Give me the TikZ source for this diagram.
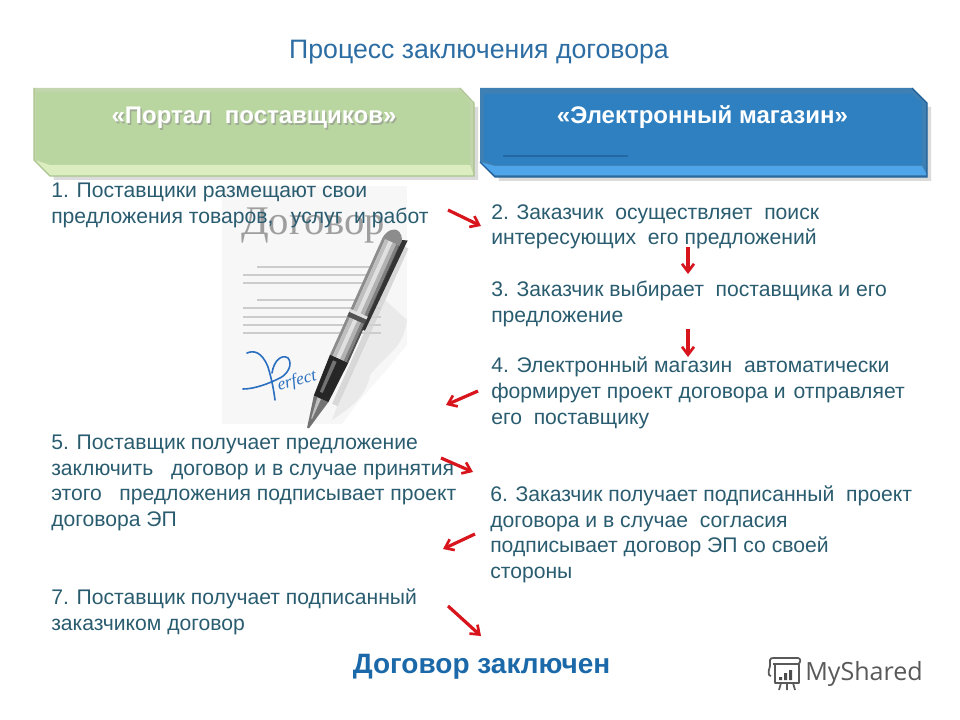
\documentclass[tikz,border=0pt]{standalone}
\usepackage{fontspec}
\setmainfont{Liberation Sans}
\newfontfamily\serifdoc{Liberation Serif}
\newfontfamily\logofont{Open Sans}
\usetikzlibrary{arrows.meta,shapes.geometric}
\definecolor{bodytxt}{HTML}{2A5C70}
\definecolor{titletxt}{HTML}{2C6DA4}
\definecolor{donetxt}{HTML}{1B69A9}
\definecolor{greenface}{HTML}{BAD6A0}
\definecolor{greenlight}{HTML}{DCEDC0}
\definecolor{greenside}{HTML}{A9C48D}
\definecolor{greentop}{HTML}{C3D5AC}
\definecolor{blueface}{HTML}{2F80C0}
\definecolor{bluelight}{HTML}{4FA5EA}
\definecolor{blueside}{HTML}{1F5E96}
\definecolor{bluetop}{HTML}{3F80B4}
\definecolor{arrowred}{HTML}{D8141C}
\definecolor{sigblue}{HTML}{2A6FC0}
\tikzset{
  x=0.75pt,y=-0.75pt,
  bodytext/.style={anchor=north west,inner sep=0pt,align=left,text=bodytxt,
    font=\fontsize{15.85}{19.3}\selectfont},
  headtext/.style={inner sep=0pt,font=\fontsize{18}{21}\selectfont\bfseries,text=white},
  headshadow/.style={inner sep=0pt,font=\fontsize{18}{21}\selectfont\bfseries,text=black!45,opacity=.55},
  redarrow/.style={draw=arrowred,line width=2.4pt,-{Straight Barb[length=6pt,width=9pt,line width=2pt]}},
}
\begin{document}
\begin{tikzpicture}
\useasboundingbox (0,0) rectangle (960,720);
\fill[white] (0,0) rectangle (960,720);
% ---- title
\node[inner sep=0pt,text=titletxt,font=\fontsize{20}{24}\selectfont] (title) at (479,52) {Процесс заключения договора};
% ---- green banner
\fill[black!40,opacity=.35] (38,92)--(478,107)--(478,180)--(54,180)--cycle;
\fill[greentop] (34,88)--(460,88)--(474,103)--(474,176)--(50,176)--(34,160)--cycle;
\fill[greenface] (36,92)--(462,92)--(470,103)--(470,165)--(50,165)--(36,159)--cycle;
\fill[greenlight] (34,160)--(50,165)--(470,165)--(474,176)--(50,176)--cycle;
\draw[greenside,line width=.8pt] (460,88)--(474,103)--(474,176)--(50,176)--(34,160)--(34,88);
\node[headshadow] at (255.5,119.5) {«Портал\ \ поставщиков»};
\node[headtext] (portal) at (254,117.5) {«Портал\ \ поставщиков»};
% ---- blue banner
\fill[black!40,opacity=.35] (484,92)--(931,107)--(931,181)--(499,181)--cycle;
\fill[bluetop] (480,88)--(912,88)--(927,103)--(927,177)--(495,177)--(480,162)--cycle;
\fill[blueface] (484,94)--(912,94)--(922,103)--(922,165)--(495,165)--(484,160)--cycle;
\fill[bluelight] (480,162)--(495,166)--(922,166)--(927,175)--(495,175)--cycle;
\draw[blueside,line width=1pt] (912,88)--(927,103)--(927,177)--(495,177)--(480,162);
\draw[blueside!70!blueface,line width=2pt] (503,156)--(628,156);
\node[headtext] (shop) at (702.5,117.5) {«Электронный магазин»};
% ---- document picture
\fill[black!3] (222,186) rectangle (407,424);
\fill[white] (342,424)--(407,424)--(407,345)--(385,372)--(360,400)--cycle;
\fill[black!10,opacity=.7] (407,320) .. controls (403,350) and (385,355) .. (370,375)
   .. controls (366,395) and (355,405) .. (332,420) -- (345,385) -- (385,300) -- cycle;
\node[inner sep=0pt,text=black!38,font=\fontsize{30.5}{34}\serifdoc\selectfont] (dogword) at (313,226) {Договор};
\foreach \yy/\xa in {267/257,275/243,283/243,300/257,308/243,317/243,325/243,333/243}
  \draw[black!20,line width=1.6pt] (\xa,\yy)--(381,\yy);
% signature
\draw[sigblue,line width=1.2pt,line cap=round,line join=round]
  (247,353) .. controls (254,350) and (262,352) .. (268,367)
  .. controls (272,380) and (274,392) .. (275,400)
  (272,373) .. controls (274,360) and (282,354) .. (288,358)
  .. controls (293,364) and (288,374) .. (280,378)
  .. controls (268,384) and (254,389) .. (243,389);
\node[inner sep=0pt,rotate=15,text=sigblue,font=\fontsize{13}{15}\serifdoc\itshape\selectfont] (sigword) at (297,381) {erfect};
% pen
\begin{scope}[shift={(308,428)},rotate=65.8]
  \fill[black!18,opacity=.8] (32,12)--(205,12)--(205,18)--(32,18)--cycle;
  \fill[black!55] (0,-1)--(14,-4)--(32,-8)--(32,8)--(14,4)--(0,1)--cycle;
  \fill[black!25] (10,-1)--(32,-4)--(32,0)--(10,0)--cycle;
  \fill[black!85] (32,-8)--(76,-10)--(76,10)--(32,8)--cycle;
  \fill[black!55] (38,-4)--(72,-5)--(72,-1)--(38,-1)--cycle;
  \foreach \va/\vb/\colr in {-10/-7/black!45,-7/-3/black!25,-3/1/black!12,1/5/black!30,5/8/black!50,8/10/black!68}{
    \fill[\colr] (76,\va)--(204,\va)--(204,\vb)--(76,\vb)--cycle;
  }
  \fill[black!68] (118,-10) rectangle (123,10);
  \fill[black!12] (123,-10) rectangle (126,10);
  \fill[black!45] (204,-10) .. controls (214,-9) and (217,-3) .. (217,0)
     .. controls (217,4) and (213,9) .. (204,10) -- cycle;
  \fill[black!80] (112,9)--(210,9)--(212,14)--(112,12)--cycle;
\end{scope}
% ---- body text
\node[bodytext] (t1) at (51,182.5) {1. Поставщики размещают свои\\предложения товаров,\ \ \ услуг\ \ и работ};
\node[bodytext] (t2) at (491,204) {2. Заказчик\ \ осуществляет\ \ поиск\\интересующих\ \ его предложений};
\node[bodytext] (t3) at (491,281) {3. Заказчик выбирает\ \ поставщика и его\\предложение};
\node[bodytext] (t4) at (491,357) {4. Электронный магазин\ \ автоматически\\формирует проект договора и\hspace{1.5pt} отправляет\\его\ \ поставщику};
\node[bodytext] (t5) at (51,434.5) {5. Поставщик получает предложение\\заключить\ \ \ договор и в случае принятия\\этого\ \ \ предложения подписывает проект\\договора ЭП};
\node[bodytext] (t6) at (490,485.5) {6. Заказчик получает подписанный\ \ проект\\договора и в случае\ \ согласия\\подписывает договор ЭП со своей\\стороны};
\node[bodytext] (t7) at (51,588.5) {7. Поставщик получает подписанный\\заказчиком договор};
\node[inner sep=0pt,text=donetxt,font=\fontsize{21}{25}\selectfont\bfseries] (done) at (481.5,667) {Договор заключен};
% ---- arrows
\coordinate (a1s) at (448,210); \coordinate (a1e) at (481,226);
\coordinate (a2s) at (688,247); \coordinate (a2e) at (688,274);
\coordinate (a3s) at (688,329); \coordinate (a3e) at (688,357);
\coordinate (a4s) at (478,391); \coordinate (a4e) at (446,405);
\coordinate (a5s) at (441,458); \coordinate (a5e) at (473,472);
\coordinate (a6s) at (475,534); \coordinate (a6e) at (443,549);
\coordinate (a7s) at (448,606); \coordinate (a7e) at (481,636);
\foreach \n in {1,...,7} \draw[redarrow] (a\n s)--(a\n e);
% ---- logo
\begin{scope}[draw=black!65,line width=1.3pt,line join=round]
  \draw (770,666)--(770,660) .. controls (770,658) and (772,658) .. (774,658) -- (798,658)
     .. controls (801,658) and (801,663) .. (798,664) -- (773,664);
  \draw (770,666) .. controls (768,672) and (768,676) .. (771,676);
  \draw (775,664)--(775,683)--(799,683)--(799,664);
  \draw (781,683)--(779,690) (787,683)--(787,690) (793,683)--(795,690);
  \fill[black!70] (779,677) rectangle (782,680) (784,673) rectangle (787,680) (789,670) rectangle (792,680);
\end{scope}
\node[inner sep=0pt,text=black!65,font=\fontsize{18.8}{22}\logofont\selectfont] (logo) at (864,674) {MyShared};
\end{tikzpicture}
\end{document}
